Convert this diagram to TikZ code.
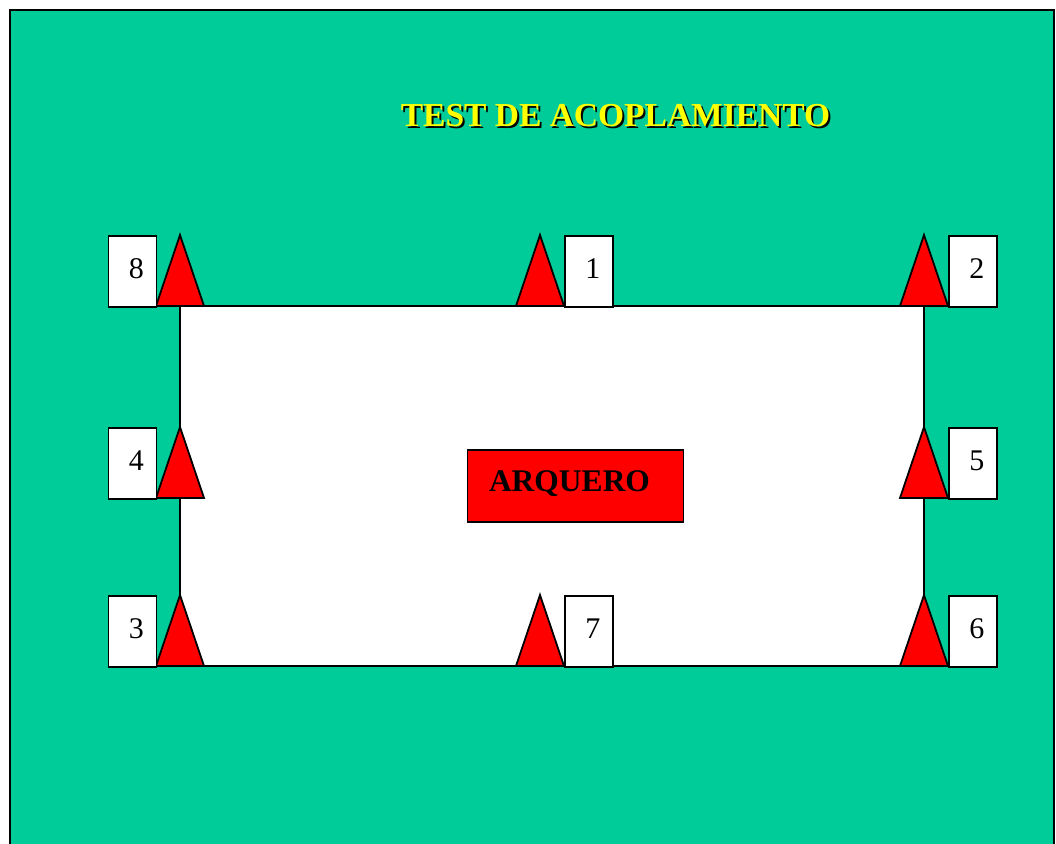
\documentclass[tikz,border=0pt]{standalone}
\usepackage{fontspec}
\setmainfont{Liberation Serif}
\definecolor{bggreen}{HTML}{00CC99}
\definecolor{cone}{HTML}{FF0000}
\definecolor{titleyellow}{HTML}{FFFF00}
\begin{document}
\begin{tikzpicture}[x=1pt,y=-1pt,
  tag/.style={draw=black,line width=1.8pt,fill=white,minimum width=48pt,minimum height=71pt,inner sep=0pt,anchor=north west},
  tagtext/.style={font=\fontsize{30}{32}\selectfont},
  conestyle/.style={draw=black,line width=1.8pt,fill=cone,line join=miter},
  titlefont/.style={font=\fontsize{33.5}{36}\bfseries\selectfont}]
\useasboundingbox (0,0) rectangle (1056,843);
\fill[white] (0,0) rectangle (1056,843);
% background
\draw[fill=bggreen,draw=black,line width=2pt] (10,10) rectangle (1054,860);
% field
\draw[fill=white,draw=black,line width=1.8pt] (180,306) rectangle (924,666);
% title with shadow
\node[titlefont,text=black] (titleshadow) at (617.5,117.5) {TEST DE ACOPLAMIENTO};
\node[titlefont,text=titleyellow] (title) at (615.5,115.5) {TEST DE ACOPLAMIENTO};
% cones
\foreach \cx/\cy in {180/235,540/235,924/235,180/427,924/427,180/595,540/595,924/595}{
  \draw[conestyle] (\cx-24,\cy+71) -- (\cx,\cy) -- (\cx+24,\cy+71) -- cycle;
}
% tags
\node[tag] (t8) at (107.5,235) {};
\node[tagtext] (n8) at ([xshift=4pt,yshift=3pt]t8.center) {8};
\node[tag] (t1) at (564,235) {};
\node[tagtext] (n1) at ([xshift=4pt,yshift=3pt]t1.center) {1};
\node[tag] (t2) at (948,235) {};
\node[tagtext] (n2) at ([xshift=4pt,yshift=3pt]t2.center) {2};
\node[tag] (t4) at (107.5,427) {};
\node[tagtext] (n4) at ([xshift=4pt,yshift=3pt]t4.center) {4};
\node[tag] (t5) at (948,427) {};
\node[tagtext] (n5) at ([xshift=4pt,yshift=3pt]t5.center) {5};
\node[tag] (t3) at (107.5,595) {};
\node[tagtext] (n3) at ([xshift=4pt,yshift=3pt]t3.center) {3};
\node[tag] (t7) at (564,595) {};
\node[tagtext] (n7) at ([xshift=4pt,yshift=3pt]t7.center) {7};
\node[tag] (t6) at (948,595) {};
\node[tagtext] (n6) at ([xshift=4pt,yshift=3pt]t6.center) {6};
% goalkeeper
\node[draw=black,line width=1.8pt,fill=cone,minimum width=216pt,minimum height=72pt,inner sep=0pt] (arquero) at (575.5,486) {};
\node[font=\fontsize{31.5}{33}\bfseries\selectfont] (arqtext) at (569.5,484) {ARQUERO};
\end{tikzpicture}
\end{document}
